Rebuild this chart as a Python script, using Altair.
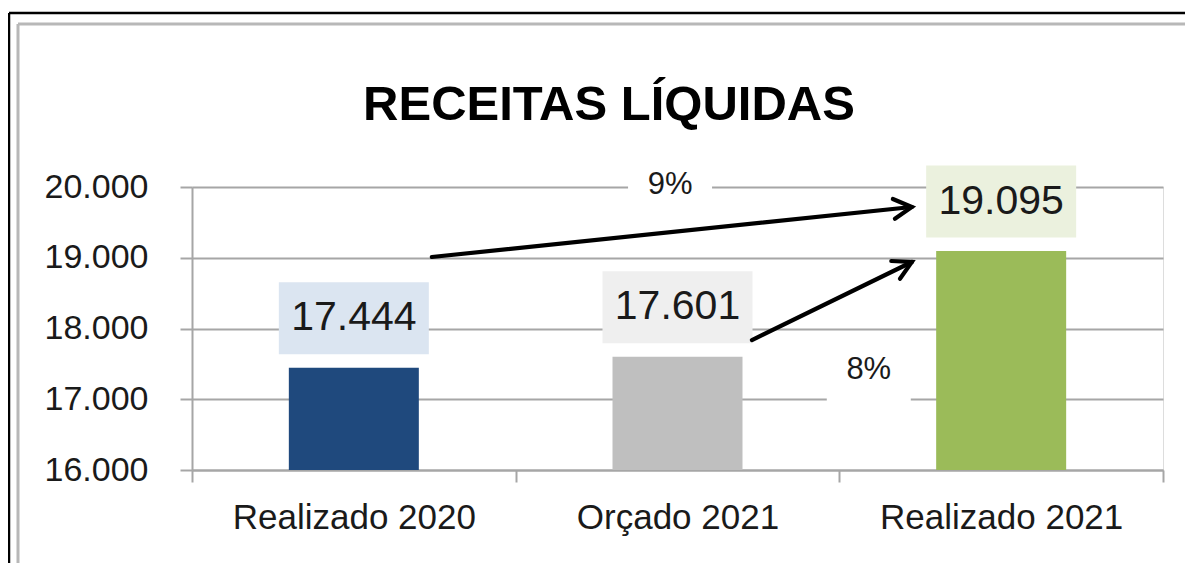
import math
import altair as alt
import pandas as pd

FONT = "Liberation Sans Narrow, Liberation Sans, Roboto, sans-serif"

TITLE = "RECEITAS LÍQUIDAS"
categories = ["Realizado 2020", "Orçado 2021", "Realizado 2021"]
values = [17444, 17601, 19095]
bar_colors = ["#1f497d", "#bfbfbf", "#9bbb59"]
box_colors = ["#dbe5f1", "#efefef", "#ebf1de"]
y_ticks = [16000, 17000, 18000, 19000, 20000]

# growth arrows (category index from -> to); percentages computed from values
arrow_from = [0, 1]
arrow_to = [2, 2]
# annotation anchor points (x in category units, y in data units)
arrow_x0 = [0.741, 1.730]
arrow_y0 = [19011, 17837]
arrow_x1 = [2.224, 2.224]
arrow_y1 = [19717, 18940]
pct_x = [1.477, 2.091]
pct_y = [20028, 17413]

W, H = 971, 283
Y_MIN, Y_MAX = 16000, 20000
GRID = "#a6a6a6"
TXT = "#1a1a1a"

df = pd.DataFrame({
    "cat": categories,
    "value": values,
    "bar_color": bar_colors,
    "box_color": box_colors,
})

px_x = W / 3.0
px_y = H / float(Y_MAX - Y_MIN)
angles = []
pcts = []
for i in range(len(arrow_from)):
    dx = (arrow_x1[i] - arrow_x0[i]) * px_x
    dy = -(arrow_y1[i] - arrow_y0[i]) * px_y
    angles.append(math.degrees(math.atan2(dy, dx)) % 360)
    pcts.append(f"{round((values[arrow_to[i]] / values[arrow_from[i]] - 1) * 100)}%")

ann = pd.DataFrame({
    "x0": arrow_x0, "y0": arrow_y0, "x1": arrow_x1, "y1": arrow_y1,
    "px": pct_x, "py": pct_y, "pct": pcts, "angle": angles,
})

yscale = alt.Scale(domain=[Y_MIN, Y_MAX], nice=False, zero=False)
xband = alt.Scale(domain=categories, paddingInner=0, paddingOuter=0)
xq = alt.Scale(domain=[0, 3], nice=False, zero=False)

x_axis = alt.Axis(
    title=None, tickBand="extent", tickSize=12, tickColor=GRID, tickWidth=2,
    domainColor=GRID, domainWidth=2, labelFontSize=35, labelFont=FONT,
    labelColor=TXT, labelPadding=18, grid=False, labelAngle=0, labelLimit=0,
)
y_axis = alt.Axis(
    title=None, values=y_ticks,
    labelExpr="replace(format(datum.value, ',d'), ',', '.')",
    tickSize=12, tickColor=GRID, tickWidth=2, domainColor=GRID, domainWidth=2,
    gridColor=GRID, gridWidth=2, labelFontSize=34, labelFont=FONT,
    labelColor=TXT, labelPadding=32, labelLimit=0,
)


def Y(field):
    return alt.Y(field, scale=yscale, axis=y_axis, title=None)


base = alt.Chart(df)

bars = base.mark_bar(width=130).encode(
    x=alt.X("cat:N", scale=xband, axis=x_axis, sort=categories),
    y=Y("value:Q"),
    y2=alt.datum(Y_MIN),
    color=alt.Color("bar_color:N", scale=None),
)

boxes = base.transform_calculate(
    lo="datum.value + 700 - 509", hi="datum.value + 700 + 509"
).mark_bar(width=150).encode(
    x=alt.X("cat:N", scale=xband, axis=None, sort=categories),
    y=Y("lo:Q"),
    y2="hi:Q",
    color=alt.Color("box_color:N", scale=None),
)

vlabels = base.transform_calculate(
    ly="datum.value + 700",
    lab="replace(format(datum.value, ',d'), ',', '.')",
).mark_text(fontSize=41, font=FONT, color=TXT, baseline="middle").encode(
    x=alt.X("cat:N", scale=xband, axis=None, sort=categories),
    y=Y("ly:Q"),
    text="lab:N",
)

ann_base = alt.Chart(ann)

pct_boxes = ann_base.mark_point(
    shape="M-1,-0.76H1V0.76H-1Z", size=7056, filled=True, color="white", opacity=1
).encode(
    x=alt.X("px:Q", scale=xq, axis=None),
    y=Y("py:Q"),
)

pct_text = ann_base.mark_text(fontSize=31, font=FONT, color=TXT, baseline="middle").encode(
    x=alt.X("px:Q", scale=xq, axis=None),
    y=Y("py:Q"),
    text="pct:N",
)

arrow_lines = ann_base.mark_rule(strokeWidth=4.2, color="black", strokeCap="round").encode(
    x=alt.X("x0:Q", scale=xq, axis=None),
    y=Y("y0:Q"),
    x2="x1:Q",
    y2="y1:Q",
)

arrow_heads = ann_base.mark_point(
    shape="M-1,-0.55L0,0L-1,0.55", size=1300, filled=False, strokeWidth=4.2,
    color="black", opacity=1, strokeCap="round", strokeJoin="miter",
).encode(
    x=alt.X("x1:Q", scale=xq, axis=None),
    y=Y("y1:Q"),
    angle=alt.Angle("angle:Q", scale=None),
)

one = pd.DataFrame({"t": [TITLE]})
title = alt.Chart(one).mark_text(
    font=FONT, fontSize=49, fontWeight="bold", align="center",
    baseline="alphabetic", color="black",
).encode(x=alt.value(417), y=alt.value(-67), text="t:N")


def rule(x, x2, y, y2, color, w):
    return alt.Chart(one).mark_rule(color=color, strokeWidth=w).encode(
        x=alt.value(x), x2=alt.value(x2), y=alt.value(y), y2=alt.value(y2)
    )


frame = [
    rule(-183, 993, -174, -174, "black", 2.5),
    rule(-183, -183, -174, 380, "black", 2.5),
    rule(-174, 993, -163, -163, "#b8b8b8", 3),
    rule(-174, -174, -163, 380, "#b8b8b8", 3),
]

chart = alt.layer(
    bars, boxes, vlabels, pct_boxes, pct_text, arrow_lines, arrow_heads, title, *frame
).resolve_scale(x="independent").properties(
    width=W, height=H,
    autosize=alt.AutoSizeParams(type="none"),
    padding={"left": 184, "top": 179, "right": 22, "bottom": 93},
).configure_view(stroke=None).configure(background="white")

chart.save("out.html", embed_options={"renderer": "svg", "actions": False})
